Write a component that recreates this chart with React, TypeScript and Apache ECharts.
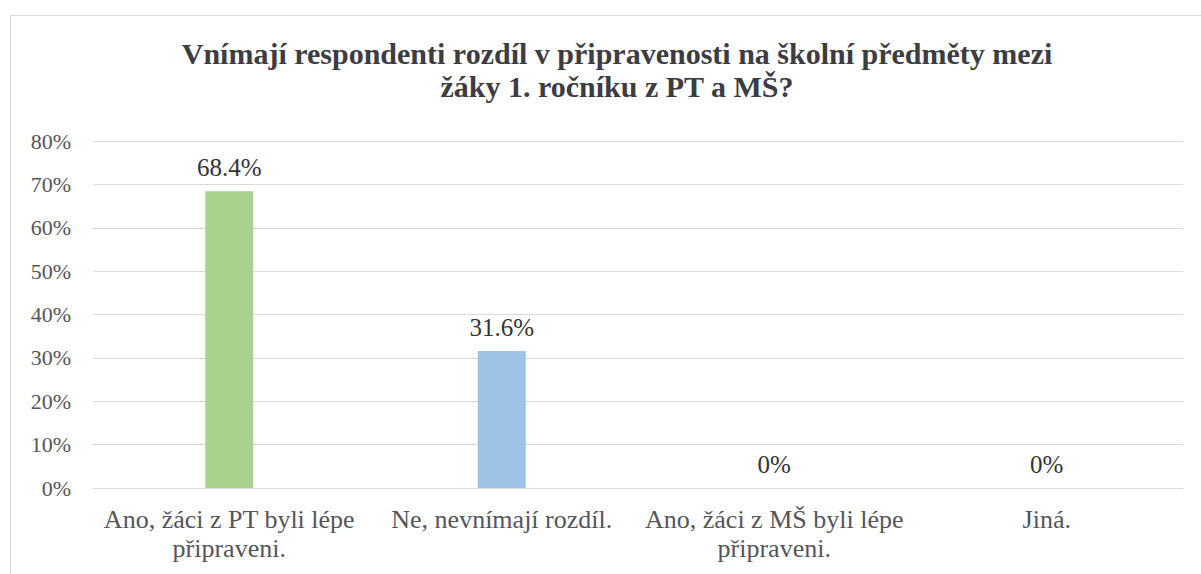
import React, { useEffect, useRef } from "react";
import * as echarts from "echarts";

const titleText =
  "Vnímají respondenti rozdíl v připravenosti na školní předměty mezi\nžáky 1. ročníku z PT a MŠ?";
const categories = [
  "Ano, žáci z PT byli lépe\npřipraveni.",
  "Ne, nevnímají rozdíl.",
  "Ano, žáci z MŠ byli lépe\npřipraveni.",
  "Jiná.",
];
const values = [68.4, 31.6, 0, 0];
const barColors = ["#A9D18E", "#9DC3E6", "#A9D18E", "#A9D18E"];

const FONT = "Liberation Serif";

export default function App() {
  const ref = useRef<HTMLDivElement>(null);
  useEffect(() => {
    if (!ref.current) return;
    const chart = echarts.init(ref.current, null, { renderer: "svg" });
    chart.setOption({
      animation: false,
      title: {
        text: titleText,
        left: 612,
        textAlign: "center",
        top: 32,
        textStyle: {
          fontFamily: FONT,
          fontSize: 30,
          fontWeight: "bold",
          lineHeight: 33,
        },
      },
      grid: { left: 93, right: 18, top: 141, bottom: 86 },
      xAxis: {
        type: "category",
        data: categories,
        axisLine: { lineStyle: { color: "#D9D9D9", width: 1 } },
        axisTick: { show: false },
        axisLabel: {
          interval: 0,
          margin: 17,
          fontFamily: FONT,
          fontSize: 26,
          lineHeight: 29,
        },
      },
      yAxis: {
        type: "value",
        min: 0,
        max: 80,
        interval: 10,
        axisLine: { show: false },
        axisTick: { show: false },
        splitLine: { lineStyle: { color: "#D9D9D9", width: 1 } },
        axisLabel: {
          formatter: "{value}%",
          margin: 22,
          fontFamily: FONT,
          fontSize: 22,
        },
      },
      series: [
        {
          type: "bar",
          barWidth: 48,
          data: values.map((v, i) => ({ value: v, itemStyle: { color: barColors[i] } })),
          label: {
            show: true,
            position: "top",
            distance: 11,
            fontFamily: FONT,
            fontSize: 25,
            formatter: (p: any) => (p.value === 0 ? "0%" : p.value.toFixed(1) + "%"),
          },
        },
      ],
    });
    return () => chart.dispose();
  }, []);
  return (
    <div style={{ position: "fixed", left: 0, top: 0, width: 1201, height: 574, background: "#fff" }}>
      <div
        style={{
          position: "absolute",
          left: 10,
          top: 15,
          width: 1220,
          height: 600,
          border: "1px solid #D9D9D9",
        }}
      />
      <div
        ref={ref}
        style={{ position: "absolute", left: 0, top: 0, width: 1201, height: 574 }}
      />
    </div>
  );
}
